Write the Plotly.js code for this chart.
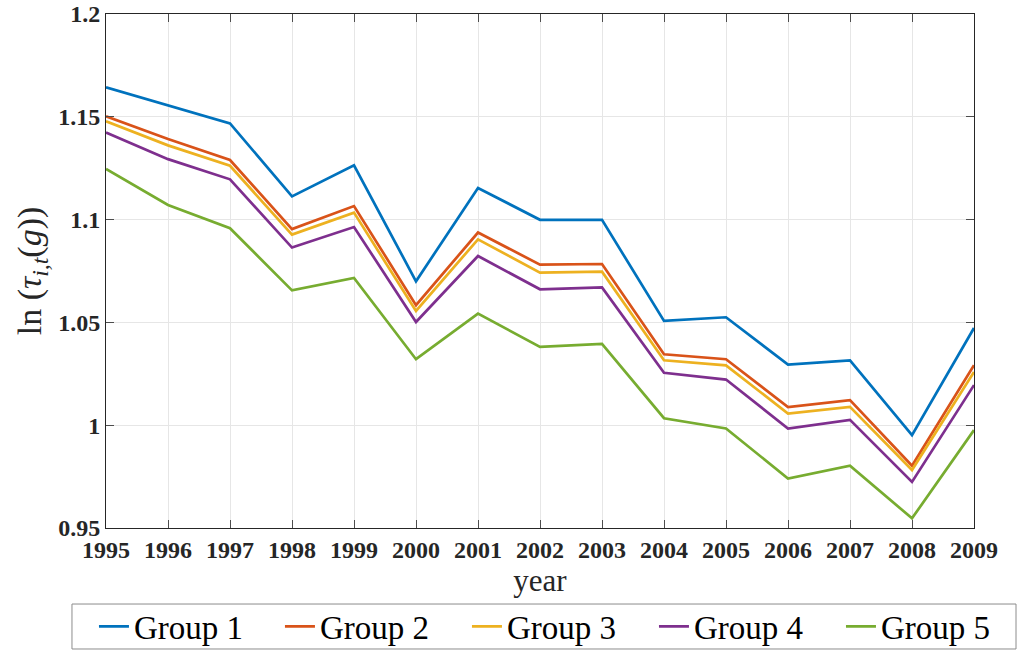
<!DOCTYPE html>
<html>
<head>
<meta charset="utf-8">
<script src="https://cdn.plot.ly/plotly-3.0.1.min.js"></script>
<style>html,body{margin:0;padding:0;background:#fff;}#chart{width:1018px;height:651px;}</style>
</head>
<body>
<div id="chart"></div>
<script>
const years = [1995,1996,1997,1998,1999,2000,2001,2002,2003,2004,2005,2006,2007,2008,2009];
const group1 = [1.1643,1.1555,1.1468,1.1113,1.1264,1.0700,1.1154,1.0999,1.0999,1.0507,1.0525,1.0295,1.0315,0.9952,1.0473];
const group2 = [1.1502,1.1392,1.1290,1.0954,1.1066,1.0584,1.0937,1.0781,1.0784,1.0345,1.0321,1.0088,1.0122,0.9803,1.0292];
const group3 = [1.1478,1.1361,1.1262,1.0927,1.1034,1.0556,1.0904,1.0742,1.0747,1.0316,1.0291,1.0057,1.0089,0.9782,1.0259];
const group4 = [1.1424,1.1294,1.1196,1.0864,1.0964,1.0502,1.0823,1.0661,1.0670,1.0255,1.0222,0.9984,1.0026,0.9724,1.0195];
const group5 = [1.1246,1.1071,1.0958,1.0656,1.0716,1.0321,1.0543,1.0381,1.0396,1.0034,0.9984,0.9741,0.9803,0.9547,0.9976];
const names = ['Group 1','Group 2','Group 3','Group 4','Group 5'];
const colors = ['#0072BD','#D95319','#EDB120','#7E2F8E','#77AC30'];
const series = [group1,group2,group3,group4,group5];
const yTicks = [0.95,1,1.05,1.1,1.15,1.2];
const yTickText = ['0.95','1','1.05','1.1','1.15','1.2'];

const legendIds = ['legend','legend2','legend3','legend4','legend5'];
const legendX = [0.0923,0.2750,0.4587,0.6424,0.8261];

const traces = series.map((s,i)=>({
  x: years, y: s, type:'scatter', mode:'lines', name: names[i],
  line:{color: colors[i], width:2.7}, legend: legendIds[i]
}));

const serif = '"Liberation Serif", "DejaVu Serif", serif';
const tickFont = {family: serif, size: 24, color:'#262626', weight: 'bold'};

const layout = {
  width:1018, height:651,
  paper_bgcolor:'#fff', plot_bgcolor:'#fff',
  margin:{l:106, r:44, t:14, b:123},
  showlegend:true,
  xaxis:{
    range:[1995,2009], tickmode:'array', tickvals: years, ticktext: years.map(String),
    tickfont: tickFont, ticks:'inside', ticklen:8, tickcolor:'#4d4d4d', tickwidth:1,
    showline:true, linecolor:'#262626', linewidth:1, mirror:'ticks',
    showgrid:true, gridcolor:'#e6e6e6', gridwidth:1, zeroline:false, automargin:false,
    title:{text:'year', font:{family: serif, size:31, color:'#262626'}, standoff:0}
  },
  yaxis:{
    range:[0.95,1.2], tickmode:'array', tickvals: yTicks, ticktext: yTickText,
    tickfont: tickFont, ticks:'inside', ticklen:8, tickcolor:'#4d4d4d', tickwidth:1,
    showline:true, linecolor:'#262626', linewidth:1, mirror:'ticks',
    showgrid:true, gridcolor:'#e6e6e6', gridwidth:1, zeroline:false, automargin:false,
    title:{text:'ln (<i>τ</i><sub><i>i,t</i></sub>(<i>g</i>))', font:{family: serif, size:34, color:'#262626'}, standoff:6}
  },
  shapes:[{
    type:'rect', xref:'paper', yref:'paper',
    x0:-0.0392, x1:1.0484, y0:-0.1479, y1:-0.2354,
    line:{color:'#8c8c8c', width:1}, fillcolor:'rgba(0,0,0,0)'
  }]
};

legendIds.forEach((id,i)=>{
  layout[id] = {
    orientation:'h', xref:'container', yref:'container',
    x: legendX[i], xanchor:'left', y:0.0376, yanchor:'middle',
    borderwidth:0, bgcolor:'rgba(0,0,0,0)',
    font:{family: serif, size:33, color:'#000'}
  };
});

Plotly.newPlot('chart', traces, layout, {displayModeBar:false, staticPlot:true});
</script>
</body>
</html>
